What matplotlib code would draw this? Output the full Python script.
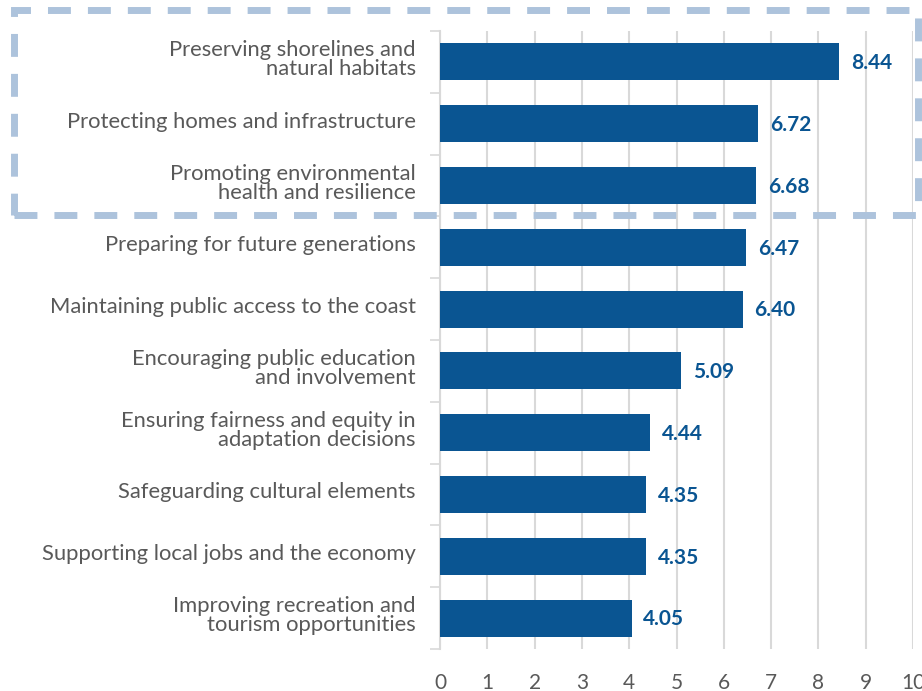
import matplotlib.pyplot as plt
from matplotlib.patches import Rectangle
from matplotlib.transforms import ScaledTranslation

plt.rcParams['font.family'] = ['Lato', 'DejaVu Sans']

labels = [
    "Preserving shorelines and\nnatural habitats",
    "Protecting homes and infrastructure",
    "Promoting environmental\nhealth and resilience",
    "Preparing for future generations",
    "Maintaining public access to the coast",
    "Encouraging public education\nand involvement",
    "Ensuring fairness and equity in\nadaptation decisions",
    "Safeguarding cultural elements",
    "Supporting local jobs and the economy",
    "Improving recreation and\ntourism opportunities",
]
scores = [8.44, 6.72, 6.68, 6.47, 6.40, 5.09, 4.44, 4.35, 4.35, 4.05]
xticks = list(range(0, 11))

bar_color = '#0a5592'
text_grey = '#595959'
grid_grey = '#d9d9d9'

fig = plt.figure(figsize=(9.22, 6.91), dpi=100)
ax = fig.add_axes([440 / 922, 1 - 649 / 691, 473 / 922, (649 - 31) / 691])

ypos = list(range(len(labels)))
ax.barh(ypos, scores, height=0.6, color=bar_color, zorder=3)
ax.set_ylim(len(labels) - 0.5, -0.5)
ax.set_xlim(0, 10)

for y, v in zip(ypos, scores):
    ax.text(v + 0.25, y + 0.02, f"{v:.2f}", va='center', ha='left',
            fontsize=15, fontweight='bold', color=bar_color)

ax.set_yticks(ypos)
ax.set_yticklabels(labels, fontsize=15.8, color=text_grey, linespacing=0.95)
ax.set_yticks([y + 0.5 for y in [-1] + ypos], minor=True)
ax.tick_params(axis='y', which='major', length=0, pad=17.5)
ax.tick_params(axis='y', which='minor', length=7, width=1.2, color=grid_grey)

ax.set_xticks(xticks)
ax.set_xticklabels([str(t) for t in xticks], fontsize=15, color=text_grey)
ax.tick_params(axis='x', length=0, pad=17)
ax.grid(axis='x', color=grid_grey, linewidth=1.5, zorder=0)

# nudge category labels up a little, as in the original
shift = ScaledTranslation(0, 4 / 100, fig.dpi_scale_trans)
for lbl in ax.get_yticklabels():
    lbl.set_transform(lbl.get_transform() + shift)

for s in ['top', 'right', 'bottom']:
    ax.spines[s].set_visible(False)
ax.spines['left'].set_color(grid_grey)
ax.spines['left'].set_linewidth(1.5)

box = Rectangle((14 / 922, 1 - 215 / 691), (918 - 14) / 922, (215 - 10) / 691,
                transform=fig.transFigure, fill=False, edgecolor='#adc3dc',
                linewidth=5, linestyle=(0, (3.3, 2.45)), clip_on=False)
fig.patches.append(box)

fig.savefig('out.png', dpi=100)
